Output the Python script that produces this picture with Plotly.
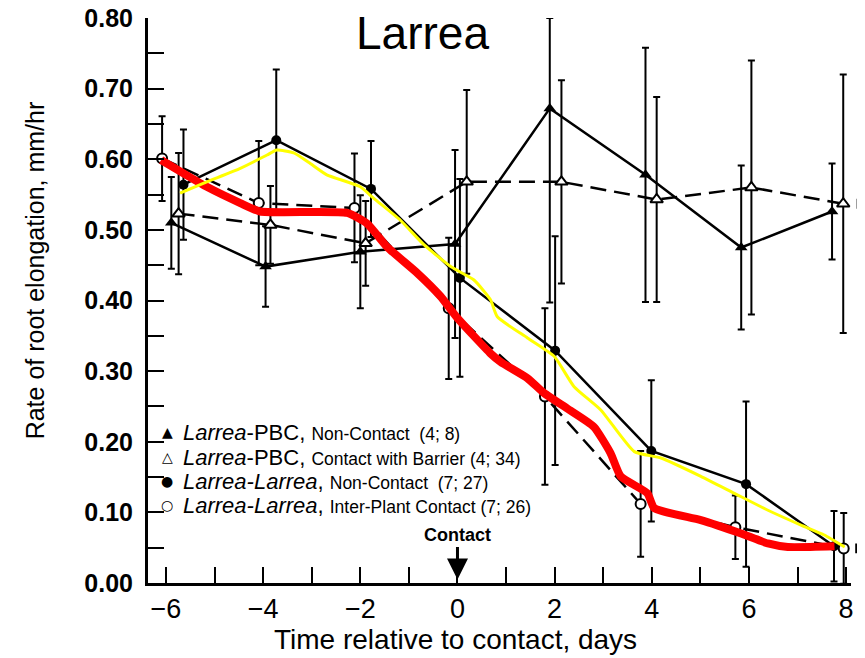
import plotly.graph_objects as go

# ---- data ----
# Larrea-PBC, Non-Contact (filled triangle, solid)
pbc_nc_x = [-5.89, -3.95, -2.00, -0.05, 1.90, 3.87, 5.84, 7.71]
pbc_nc_y = [0.510, 0.448, 0.469, 0.480, 0.672, 0.578, 0.475, 0.526]
pbc_nc_err_up = [0.065, 0.057, 0.080, 0.133, 0.128, 0.180, 0.116, 0.068]
pbc_nc_err_dn = [0.065, 0.057, 0.080, 0.133, 0.275, 0.180, 0.116, 0.068]

# Larrea-PBC, Contact with Barrier (open triangle, dashed)
pbc_c_x = [-5.74, -3.85, -1.89, 0.19, 2.14, 4.10, 6.05, 7.94]
pbc_c_y = [0.523, 0.507, 0.481, 0.568, 0.568, 0.543, 0.560, 0.537]
pbc_c_err = [0.086, 0.055, 0.060, 0.130, 0.144, 0.145, 0.180, 0.183]

# Larrea-Larrea, Non-Contact (filled circle, solid)
ll_nc_x = [-5.64, -3.73, -1.78, 0.05, 2.01, 3.99, 5.94, 7.75]
ll_nc_y = [0.564, 0.627, 0.558, 0.432, 0.329, 0.187, 0.140, 0.052]
ll_nc_err = [0.078, 0.100, 0.068, 0.140, 0.162, 0.100, 0.117, 0.050]

# Larrea-Larrea, Inter-Plant Contact (open circle, dashed)
ll_c_x = [-6.08, -4.09, -2.12, -0.18, 1.80, 3.77, 5.72, 7.95]
ll_c_y = [0.601, 0.538, 0.531, 0.389, 0.264, 0.112, 0.079, 0.049]
ll_c_err = [0.060, 0.088, 0.077, 0.100, 0.125, 0.075, 0.045, 0.050]

# Hand-drawn red overlay
red_x = [-6.10, -5.64, -5.16, -4.47, -4.06, -2.27, -1.86, -1.45, -0.83, -0.35, 0.00,
         0.68, 0.89, 1.44, 1.78, 2.26, 2.81, 3.15, 3.36, 3.91, 4.05, 5.01, 5.84, 6.39, 6.80, 7.76]
red_y = [0.599, 0.580, 0.561, 0.538, 0.526, 0.524, 0.509, 0.476, 0.439, 0.406, 0.375,
         0.325, 0.313, 0.290, 0.269, 0.247, 0.221, 0.184, 0.151, 0.127, 0.106, 0.089, 0.070, 0.056, 0.051, 0.052]

# Hand-drawn yellow overlay
yel_x = [-5.71, -5.16, -4.47, -3.92, -3.72, -3.37, -3.03, -2.69, -2.00, -1.73, -1.18, -0.69,
         -0.14, 0.34, 0.68, 0.82, 1.44, 1.99, 2.40, 2.95, 3.64, 4.19, 5.01, 5.70, 6.39, 7.07, 7.55, 7.97]
yel_y = [0.552, 0.568, 0.587, 0.606, 0.613, 0.609, 0.594, 0.578, 0.561, 0.545, 0.514, 0.479,
         0.448, 0.429, 0.401, 0.377, 0.347, 0.321, 0.278, 0.245, 0.186, 0.177, 0.151, 0.127, 0.103, 0.082, 0.068, 0.051]

x_tick_vals = [-6, -4, -2, 0, 2, 4, 6, 8]
y_tick_vals = [0.0, 0.1, 0.2, 0.3, 0.4, 0.5, 0.6, 0.7, 0.8]

legend_symbols = ["▲", "△", "●", "○"]
legend_main = ["<i>Larrea</i>-PBC,", "<i>Larrea</i>-PBC,", "<i>Larrea-Larrea</i>,", "<i>Larrea-Larrea</i>,"]
legend_sub = ["Non-Contact  (4; 8)", "Contact with Barrier (4; 34)", "Non-Contact  (7; 27)",
              "Inter-Plant Contact (7; 26)"]

FONT = "Liberation Sans, Arial, sans-serif"

fig = go.Figure()

err_style = dict(type="data", color="black", thickness=2, width=3.5)

fig.add_trace(go.Scatter(
    x=pbc_nc_x, y=pbc_nc_y, mode="lines+markers",
    line=dict(color="black", width=2.5),
    marker=dict(symbol="triangle-up", size=11, color="black"),
    error_y=dict(array=pbc_nc_err_up, arrayminus=pbc_nc_err_dn, symmetric=False, **err_style),
    showlegend=False, cliponaxis=False))

fig.add_trace(go.Scatter(
    x=pbc_c_x, y=pbc_c_y, mode="lines+markers",
    line=dict(color="black", width=2.5, dash="16px,8px"),
    marker=dict(symbol="triangle-up", size=11, color="white", line=dict(color="black", width=2)),
    error_y=dict(array=pbc_c_err, **err_style),
    showlegend=False, cliponaxis=False))

fig.add_trace(go.Scatter(
    x=ll_nc_x, y=ll_nc_y, mode="lines+markers",
    line=dict(color="black", width=2.5),
    marker=dict(symbol="circle", size=10, color="black"),
    error_y=dict(array=ll_nc_err, **err_style),
    showlegend=False, cliponaxis=False))

fig.add_trace(go.Scatter(
    x=ll_c_x, y=ll_c_y, mode="lines+markers",
    line=dict(color="black", width=2.5, dash="16px,8px"),
    marker=dict(symbol="circle", size=10, color="white", line=dict(color="black", width=2)),
    error_y=dict(array=ll_c_err, **err_style),
    showlegend=False, cliponaxis=False))

fig.add_trace(go.Scatter(
    x=red_x, y=red_y, mode="lines",
    line=dict(color="#ff0000", width=8, shape="spline", smoothing=0.5),
    showlegend=False, hoverinfo="skip"))

fig.add_trace(go.Scatter(
    x=yel_x, y=yel_y, mode="lines",
    line=dict(color="#ffff00", width=3, shape="spline", smoothing=0.5),
    showlegend=False, hoverinfo="skip"))

fig.update_xaxes(
    range=[-6.37, 8.10], tickvals=x_tick_vals, ticktext=[f"{v}".replace("-", "−") for v in x_tick_vals],
    ticks="inside", ticklen=16, tickwidth=2, tickcolor="black",
    minor=dict(dtick=1, tick0=0, ticks="inside", ticklen=16, tickwidth=2, tickcolor="black"),
    showline=True, linecolor="black", linewidth=3, showgrid=False, zeroline=False,
    tickfont=dict(family=FONT, size=27, color="black"), ticklabelstandoff=0,
    ticklabeloverflow="allow", automargin=False)

fig.update_yaxes(
    range=[0, 0.8], tickvals=y_tick_vals, ticktext=[f"{v:.2f}" for v in y_tick_vals],
    ticks="inside", ticklen=16, tickwidth=2, tickcolor="black",
    minor=dict(dtick=0.05, tick0=0, ticks="inside", ticklen=16, tickwidth=2, tickcolor="black"),
    showline=True, linecolor="black", linewidth=3, showgrid=False, zeroline=False,
    tickfont=dict(family=FONT, size=25, color="black", weight="bold"), ticklabelstandoff=7,
    ticklabeloverflow="allow", automargin=False)

annotations = [
    dict(text="Larrea", x=0.39, y=0.9735, xref="paper", yref="paper", showarrow=False,
         font=dict(family=FONT, size=46, color="black"), xanchor="center", yanchor="middle"),
    dict(text="Time relative to contact, days", x=0.437, y=-0.1, xref="paper", yref="paper",
         showarrow=False, font=dict(family=FONT, size=28, color="black"),
         xanchor="center", yanchor="middle"),
    dict(text="Rate of root elongation, mm/hr", x=-0.161, y=0.553, xref="paper", yref="paper",
         showarrow=False, textangle=-90, font=dict(family=FONT, size=25, color="black"),
         xanchor="center", yanchor="middle"),
    dict(text="<b>Contact</b>", x=0, y=0.005, xref="x", yref="y", showarrow=True,
         ax=0, ay=-44, arrowhead=2, arrowsize=1.4, arrowwidth=3, arrowcolor="black",
         font=dict(family=FONT, size=18, color="black")),
]

leg_y = [432, 457, 481, 505]
for sym, main, sub, py in zip(legend_symbols, legend_main, legend_sub, leg_y):
    yp = (583 - py) / 565
    annotations.append(dict(text=sym, x=(167 - 148) / 703, y=yp, xref="paper", yref="paper",
                            showarrow=False, xanchor="center", yanchor="middle",
                            font=dict(family="DejaVu Sans", size=14, color="black")))
    annotations.append(dict(
        text=f"{main} <span style='font-size:17.5px'>{sub}</span>",
        x=(181 - 148) / 703, y=yp, xref="paper", yref="paper", showarrow=False,
        xanchor="left", yanchor="middle", font=dict(family=FONT, size=22, color="black")))

shapes = [
    dict(type="rect", xref="paper", yref="paper", x0=-0.2105, x1=-0.2063, y0=0.738, y1=0.873,
         fillcolor="#ffff00", line=dict(width=0)),
    dict(type="rect", xref="paper", yref="y", x0=1.008, x1=1.0135,
         y0=pbc_c_y[-1] - 0.007, y1=pbc_c_y[-1] + 0.007, fillcolor="black", line=dict(width=0)),
    dict(type="rect", xref="paper", yref="y", x0=1.006, x1=1.0115,
         y0=ll_c_y[-1] - 0.007, y1=ll_c_y[-1] + 0.007, fillcolor="black", line=dict(width=0)),
]

# The page body has an 8px margin, so the figure is reduced by 8px and shifted accordingly.
fig.update_layout(
    width=857, height=650, margin=dict(l=140, r=14, t=10, b=75, autoexpand=False),
    paper_bgcolor="white", plot_bgcolor="white",
    annotations=annotations, shapes=shapes, showlegend=False)

fig.write_html("out.html")
